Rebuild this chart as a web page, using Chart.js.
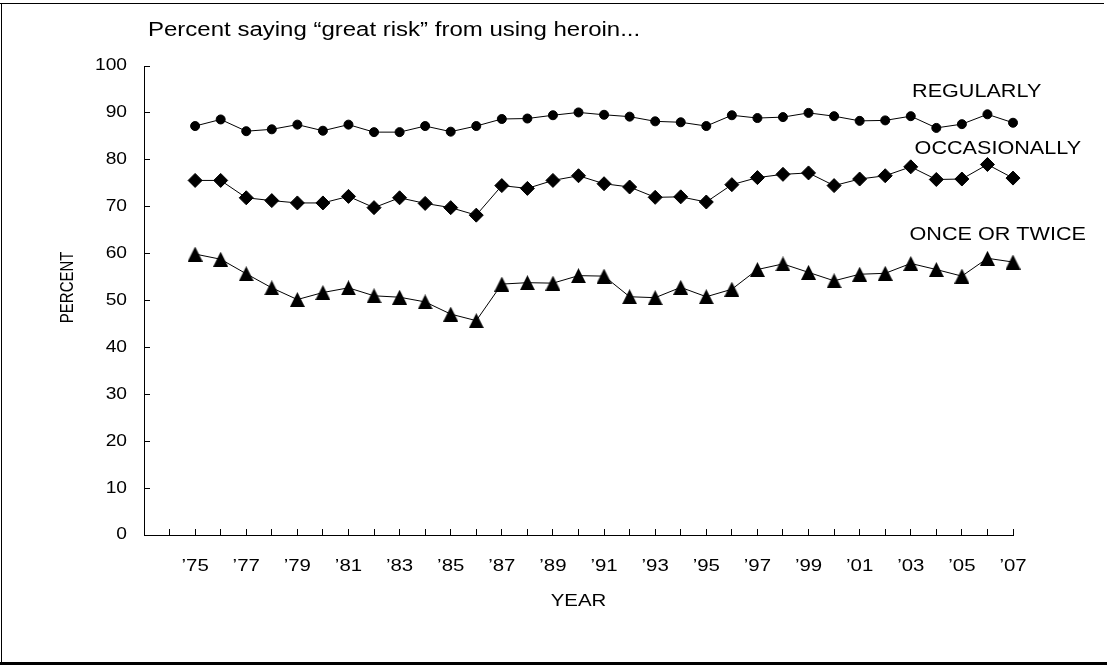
<!DOCTYPE html>
<html>
<head>
<meta charset="utf-8">
<title>Heroin risk perception</title>
<script src="https://cdn.jsdelivr.net/npm/chart.js@4/dist/chart.umd.min.js"></script>
<style>
  html, body { margin: 0; padding: 0; background: #fff; }
  canvas { display: block; }
</style>
</head>
<body>
<canvas id="chart" width="1107" height="665"></canvas>
<script>
// Survey years
const years = [1975, 1976, 1977, 1978, 1979, 1980, 1981, 1982, 1983, 1984, 1985,
               1986, 1987, 1988, 1989, 1990, 1991, 1992, 1993, 1994, 1995, 1996,
               1997, 1998, 1999, 2000, 2001, 2002, 2003, 2004, 2005, 2006, 2007];

// Percent saying "great risk" from using heroin...
const regularly = [87.2, 88.6, 86.1, 86.5, 87.5, 86.2, 87.5, 85.9, 85.9, 87.2, 86.0,
                   87.2, 88.7, 88.8, 89.5, 90.1, 89.6, 89.2, 88.2, 88.0, 87.2, 89.5,
                   88.9, 89.1, 90.0, 89.3, 88.3, 88.4, 89.3, 86.8, 87.6, 89.7, 87.9];
const occasionally = [75.6, 75.6, 71.9, 71.3, 70.8, 70.8, 72.2, 69.8, 71.9, 70.7, 69.8,
                      68.2, 74.5, 73.9, 75.6, 76.6, 74.9, 74.2, 72.0, 72.1, 71.0, 74.7,
                      76.2, 76.9, 77.2, 74.5, 75.9, 76.6, 78.5, 75.8, 75.9, 79.0, 76.1];
const onceOrTwice = [59.9, 58.8, 55.7, 52.7, 50.2, 51.7, 52.7, 51.0, 50.7, 49.7, 47.1,
                     45.7, 53.5, 53.8, 53.7, 55.3, 55.2, 50.8, 50.6, 52.8, 50.8, 52.4,
                     56.6, 57.8, 56.0, 54.2, 55.6, 55.8, 57.9, 56.6, 55.2, 59.0, 58.2];

// Labelled years on the x axis
const labelYears = [1975, 1977, 1979, 1981, 1983, 1985, 1987, 1989, 1991,
                     1993, 1995, 1997, 1999, 2001, 2003, 2005, 2007];
const labelText = ['\u201975', '\u201977', '\u201979', '\u201981', '\u201983', '\u201985',
                   '\u201987', '\u201989', '\u201991', '\u201993', '\u201995', '\u201997',
                   '\u201999', '\u201901', '\u201903', '\u201905', '\u201907'];

const seriesNames = ['REGULARLY', 'OCCASIONALLY', 'ONCE OR TWICE'];
// where each series name sits, in data units (year, percent)
const seriesNameAt = [[2003.05, 94.5], [2003.15, 82.4], [2002.95, 63.9]];

const FONT = '"Liberation Sans", Arial, Helvetica, sans-serif';
const TEXT_STRETCH = 1.2; // the lettering is set slightly wide

const canvas = document.getElementById('chart');
const ctx2d = canvas.getContext('2d');

// Widen all text horizontally around its anchor point.
const nativeFillText = CanvasRenderingContext2D.prototype.fillText;
ctx2d.fillText = function (text, x, y, maxWidth) {
  const m = this.getTransform();
  const p = m.transformPoint(new DOMPoint(x, y));
  this.save();
  this.setTransform(new DOMMatrix()
    .translate(p.x, p.y).scale(TEXT_STRETCH, 1).translate(-p.x, -p.y)
    .multiply(m));
  if (maxWidth === undefined) nativeFillText.call(this, text, x, y);
  else nativeFillText.call(this, text, x, y, maxWidth);
  this.restore();
};

// Solid triangle marker, as tall as it is wide, centred on its point.
const triangleMarker = (() => {
  const size = 15;
  const t = document.createElement('canvas');
  t.width = size;
  t.height = size;
  const c = t.getContext('2d');
  c.fillStyle = '#000';
  c.beginPath();
  c.moveTo(size / 2, 0);
  c.lineTo(size, size);
  c.lineTo(0, size);
  c.closePath();
  c.fill();
  return t;
})();

const toPoints = vals => years.map((yr, i) => ({ x: yr, y: vals[i] }));

const lineStyle = {
  borderColor: '#000',
  borderWidth: 1,
  backgroundColor: '#000',
  pointBackgroundColor: '#000',
  pointBorderColor: '#000',
  pointBorderWidth: 1,
  tension: 0,
  fill: false,
  clip: false
};

const framePlugin = {
  id: 'frame',
  beforeDraw(chart) {
    const c = chart.ctx;
    c.save();
    c.fillStyle = '#fff';
    c.fillRect(0, 0, chart.width, chart.height);
    c.fillStyle = '#000';
    c.fillRect(0, 3, 1104, 1);      // top rule
    c.fillRect(1, 3, 1, 659);       // left rule
    c.fillRect(0, 662, 1107, 3);    // heavy bottom rule
    c.restore();
  },
  afterDraw(chart) {
    const c = chart.ctx;
    const xs = chart.scales.x, ys = chart.scales.y;
    c.save();
    c.fillStyle = '#000';
    c.textBaseline = 'alphabetic';
    c.textAlign = 'left';
    c.font = '20px ' + FONT;
    c.fillText('Percent saying \u201cgreat risk\u201d from using heroin...', 148, 36);

    c.font = '18px ' + FONT;
    c.textBaseline = 'middle';
    seriesNames.forEach((name, i) => {
      const [vx, vy] = seriesNameAt[i];
      c.fillText(name, xs.getPixelForValue(vx), ys.getPixelForValue(vy));
    });

    // vertical axis title
    c.save();
    c.translate(68, ys.getPixelForValue(52.8));
    c.rotate(-Math.PI / 2);
    c.textAlign = 'center';
    c.textBaseline = 'middle';
    c.font = '15px ' + FONT;
    c.fillText('PERCENT', 0, 0);
    c.restore();
    c.restore();
  }
};

new Chart(ctx2d, {
  type: 'line',
  data: {
    datasets: [
      Object.assign({ label: seriesNames[0], data: toPoints(regularly),
        pointStyle: 'circle', pointRadius: 4.5 }, lineStyle),
      Object.assign({ label: seriesNames[1], data: toPoints(occasionally),
        pointStyle: 'rectRot', pointRadius: 7 }, lineStyle),
      Object.assign({ label: seriesNames[2], data: toPoints(onceOrTwice),
        pointStyle: triangleMarker, pointRadius: 8 }, lineStyle)
    ]
  },
  options: {
    responsive: false,
    animation: false,
    devicePixelRatio: 1,
    layout: { padding: { left: 0, top: 66, right: 94, bottom: 50 } },
    plugins: {
      legend: { display: false },
      tooltip: { enabled: false }
    },
    elements: { point: { hoverRadius: 8 } },
    scales: {
      x: {
        type: 'linear',
        min: 1973,
        max: 2007,
        afterFit(scale) { scale.height = 80; },
        ticks: {
          stepSize: 1,
          maxTicksLimit: 40,
          autoSkip: false,
          maxRotation: 0,
          padding: 27,
          color: '#000',
          font: { family: FONT, size: 17 },
          callback(value) {
            const i = labelYears.indexOf(value);
            return i >= 0 ? labelText[i] : '';
          }
        },
        grid: { drawOnChartArea: false, drawTicks: true, tickLength: -6, color: '#000', lineWidth: 1 },
        border: { display: true, color: '#000', width: 1 },
        title: {
          display: true, text: 'YEAR', color: '#000',
          font: { family: FONT, size: 17 },
          padding: { top: 0, bottom: 3 }
        }
      },
      y: {
        min: 0,
        max: 100,
        afterFit(scale) { scale.width = 144; },
        ticks: {
          stepSize: 10,
          padding: 23,
          color: '#000',
          font: { family: FONT, size: 16 }
        },
        grid: { drawOnChartArea: false, drawTicks: true, tickLength: -6, color: '#000', lineWidth: 1 },
        border: { display: true, color: '#000', width: 1 },
        title: { display: false }
      }
    }
  },
  plugins: [framePlugin]
});
</script>
</body>
</html>
